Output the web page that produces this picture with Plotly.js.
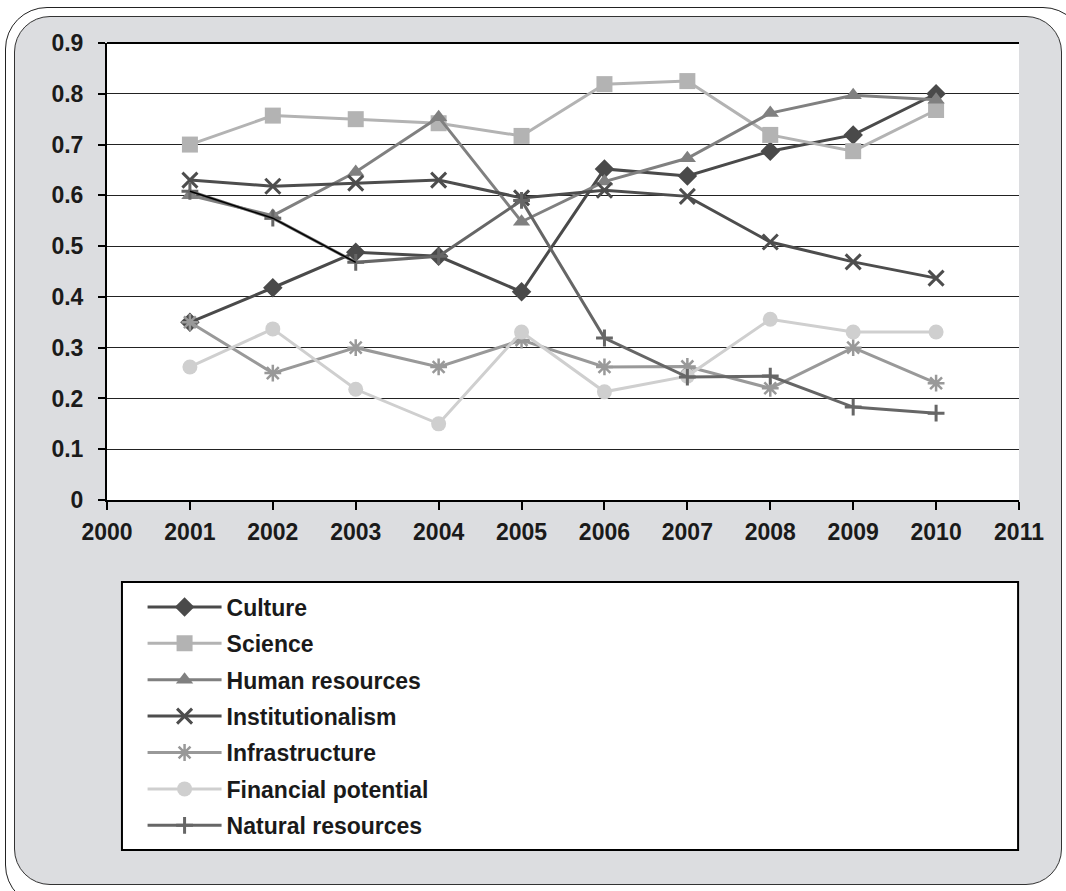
<!DOCTYPE html>
<html>
<head>
<meta charset="utf-8">
<script src="https://cdn.plot.ly/plotly-3.0.1.min.js"></script>
<style>
  html, body { margin: 0; padding: 0; background: #ffffff; }
  body { width: 1066px; height: 891px; position: relative; overflow: hidden; }
  #outer { position: absolute; left: 5px; top: 7px; width: 1080px; height: 900px;
           border: 1px solid #222; border-radius: 42px; background: #ffffff; box-sizing: border-box; }
  #inner { position: absolute; left: 14px; top: 16px; width: 1048px; height: 869px;
           border: 1.5px solid #333; border-radius: 36px; background: #dcdde0; box-sizing: border-box; }
  #chart { position: absolute; left: 0; top: 0; width: 1066px; height: 891px; }
</style>
</head>
<body>
<div id="outer"></div>
<div id="inner"></div>
<div id="chart"></div>
<script>
// ---- data ----
const years = [2001, 2002, 2003, 2004, 2005, 2006, 2007, 2008, 2009, 2010];
const culture = [0.35, 0.418, 0.488, 0.48, 0.41, 0.652, 0.638, 0.687, 0.719, 0.80];
const science = [0.70, 0.757, 0.75, 0.742, 0.717, 0.819, 0.825, 0.719, 0.687, 0.768];
const humanResources = [0.60, 0.56, 0.646, 0.754, 0.548, 0.627, 0.673, 0.762, 0.797, 0.788];
const institutionalism = [0.63, 0.618, 0.624, 0.63, 0.595, 0.61, 0.598, 0.508, 0.469, 0.437];
const infrastructure = [0.35, 0.25, 0.30, 0.262, 0.315, 0.262, 0.263, 0.22, 0.30, 0.23];
const financialPotential = [0.262, 0.337, 0.218, 0.15, 0.331, 0.213, 0.244, 0.356, 0.331, 0.331];
const naturalResources = [0.608, 0.555, 0.468, 0.48, 0.59, 0.319, 0.242, 0.244, 0.183, 0.171];
const seriesNames = ["Culture", "Science", "Human resources", "Institutionalism",
                     "Infrastructure", "Financial potential", "Natural resources"];
const xTickVals = [2000, 2001, 2002, 2003, 2004, 2005, 2006, 2007, 2008, 2009, 2010, 2011];
const yTickVals = [0, 0.1, 0.2, 0.3, 0.4, 0.5, 0.6, 0.7, 0.8, 0.9];
const yTickText = ["0", "0.1", "0.2", "0.3", "0.4", "0.5", "0.6", "0.7", "0.8", "0.9"];

function line(name, y, color, symbol, size, extra) {
  const t = {
    type: 'scatter', mode: 'lines+markers', name: name, x: years, y: y,
    legendgroup: name,
    line: { color: color, width: 3 },
    marker: Object.assign({ symbol: symbol, size: size, color: color,
                            line: { color: color, width: 0 } }, extra || {})
  };
  return t;
}

const traces = [
  line(seriesNames[0], culture, '#4a4a4a', 'diamond', 15),
  line(seriesNames[1], science, '#b3b3b3', 'square', 16),
  line(seriesNames[2], humanResources, '#808080', 'triangle-up', 15),
  line(seriesNames[3], institutionalism, '#4d4d4d', 'x-thin-open', 15, { line: { color: '#4d4d4d', width: 3 } }),
  line(seriesNames[4], infrastructure, '#999999', 'asterisk-open', 14, { line: { color: '#999999', width: 2.5 } }),
  line(seriesNames[5], financialPotential, '#cfcfcf', 'circle', 15),
  line(seriesNames[6], naturalResources, '#666666', 'cross-thin-open', 12, { line: { color: '#666666', width: 3 } }),
  // thin black first segments of natural resources as seen in reference
  { type: 'scatter', mode: 'lines', x: years.slice(0, 3), y: naturalResources.slice(0, 3),
    line: { color: '#000000', width: 1.5 }, showlegend: false, hoverinfo: 'skip' }
];

const fam = 'Arial, "Liberation Sans", sans-serif';
const tf = { family: fam, size: 23, color: '#1a1a1a', weight: 'bold' };

const layout = {
  width: 1066, height: 891,
  margin: { l: 107, r: 47, t: 43, b: 391, pad: 0 },
  paper_bgcolor: 'rgba(0,0,0,0)',
  plot_bgcolor: '#ffffff',
  font: { family: fam, size: 23, color: '#1a1a1a' },
  showlegend: true,
  xaxis: {
    range: [2000, 2011], tickmode: 'array', tickvals: xTickVals,
    ticks: 'outside', ticklen: 8, tickwidth: 2, tickcolor: '#000',
    showline: true, linecolor: '#000', linewidth: 2, mirror: false,
    showgrid: false, zeroline: false, ticklabelstandoff: 2,
    tickfont: tf
  },
  yaxis: {
    range: [0, 0.9], tickmode: 'array', tickvals: yTickVals, ticktext: yTickText,
    ticks: 'outside', ticklen: 7, tickwidth: 2, tickcolor: '#000',
    showline: true, linecolor: '#000', linewidth: 2,
    showgrid: true, gridcolor: '#222', gridwidth: 1, zeroline: false,
    ticklabelstandoff: 10,
    tickfont: tf
  },
  shapes: [
    { type: 'rect', xref: 'paper', yref: 'paper', x0: 0.0164, x1: 0.999, y0: -0.1794, y1: -0.766,
      line: { color: '#000', width: 2 }, fillcolor: '#ffffff', layer: 'below' },
    { type: 'line', xref: 'paper', yref: 'paper', x0: 0, x1: 1, y0: 1, y1: 1,
      line: { color: '#000', width: 2 } }
  ],
  legend: {
    x: 0.039, xanchor: 'left', y: -0.187, yanchor: 'top',
    orientation: 'v', bgcolor: 'rgba(0,0,0,0)', borderwidth: 0,
    font: tf,
    traceorder: 'grouped', tracegroupgap: 3.5, itemwidth: 74
  }
};

Plotly.newPlot('chart', traces, layout, { displayModeBar: false, staticPlot: true });
</script>
</body>
</html>
